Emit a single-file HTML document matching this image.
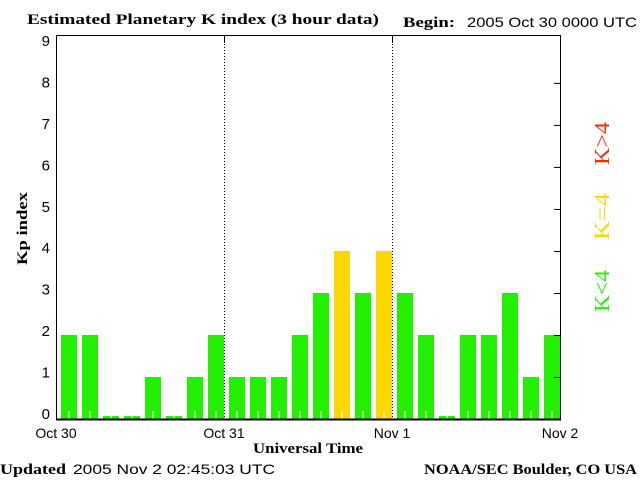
<!DOCTYPE html>
<html><head><meta charset="utf-8"><style>
body{margin:0;background:#fff;}
svg{display:block;font-family:"Liberation Serif",serif;}
.s{font-family:"Liberation Sans",sans-serif;}
</style></head><body>
<svg id="c" width="640" height="480">
<text x="27" y="24" font-size="15" font-weight="bold" textLength="352" lengthAdjust="spacingAndGlyphs">Estimated Planetary K index (3 hour data)</text>
<text x="403" y="27" font-size="15" font-weight="bold" textLength="52" lengthAdjust="spacingAndGlyphs">Begin:</text>
<text x="467" y="27" font-size="14" class="s" textLength="170" lengthAdjust="spacingAndGlyphs">2005 Oct 30 0000 UTC</text>
<text x="0" y="474" font-size="15" font-weight="bold" textLength="66" lengthAdjust="spacingAndGlyphs">Updated</text>
<text x="73" y="474" font-size="14" class="s" textLength="202" lengthAdjust="spacingAndGlyphs">2005 Nov  2 02:45:03 UTC</text>
<text x="424" y="474" font-size="15" font-weight="bold" textLength="213" lengthAdjust="spacingAndGlyphs">NOAA/SEC Boulder, CO USA</text>
<text x="253" y="453" font-size="15" font-weight="bold" textLength="110" lengthAdjust="spacingAndGlyphs">Universal Time</text>
<text transform="translate(27,265) rotate(-90)" font-size="15" font-weight="bold" textLength="73" lengthAdjust="spacingAndGlyphs">Kp index</text>
<text transform="translate(609,312) rotate(-90)" font-size="21" fill="#22f000" textLength="42" lengthAdjust="spacingAndGlyphs">K&lt;4</text>
<text transform="translate(609,240) rotate(-90)" font-size="21" fill="#ffd700" textLength="47" lengthAdjust="spacingAndGlyphs">K=4</text>
<text transform="translate(609,165) rotate(-90)" font-size="21" fill="#ff2a00" textLength="43" lengthAdjust="spacingAndGlyphs">K&gt;4</text>
<g id="plot"></g>
</svg>
<script>
const kpValues=[2,2,0,0,1,0,1,2, 1,1,1,2,3,4,3,4, 3,2,0,2,2,3,1,2];
const yTicks=[0,1,2,3,4,5,6,7,8,9];
const dayLabels=["Oct 30","Oct 31","Nov 1","Nov 2"];
const L=56,R=560,T=35,B=419,ymax=9.14;
const ns="http://www.w3.org/2000/svg";
const g=document.getElementById('plot');
const x=i=>L+(R-L)*i/kpValues.length;
const y=v=>B-(B-T)*v/ymax;
const yl=v=>413-(413-40)*v/9;
function mk(t,a){const e=document.createElementNS(ns,t);for(const k in a)e.setAttribute(k,a[k]);g.appendChild(e);return e;}
kpValues.forEach((v,i)=>{
 const vv=v===0?0.07:v;
 const col=v<4?'#22f000':(v===4?'#ffd700':'#ff2a00');
 const r=mk('rect',{x:x(i)+5,y:y(vv),width:16,height:B-y(vv),fill:col});
 
 
 const tk=mk('line',{x1:x(i)+13,x2:x(i)+13,y1:B,y2:B-8,stroke:'#fff','stroke-width':1});
 
 
});
for(let d=1;d<dayLabels.length-1;d++){
 const xx=L+(R-L)*d/(dayLabels.length-1);
 const dl=mk('line',{x1:xx+0.5,x2:xx+0.5,y1:T,y2:B,stroke:'#000','stroke-dasharray':'1,2'});
 
 
 mk('line',{x1:xx+0.5,x2:xx+0.5,y1:T,y2:T+8,stroke:'#000'});
}
const frame=mk('rect',{x:L+0.5,y:T+0.5,width:R-L,height:B-T,fill:'none',stroke:'#000'});


mk('line',{x1:L,x2:R+1,y1:B+0.5,y2:B+0.5,stroke:'#000','stroke-width':2});
yTicks.forEach(v=>{
 const t=mk('text',{x:L-6,y:yl(v)+6,'font-size':15,'text-anchor':'end','font-family':'Liberation Sans, sans-serif'});
 t.textContent=v;
 
 
 if(v>0&&v<9){mk('line',{x1:R-6,x2:R,y1:y(v)+0.5,y2:y(v)+0.5,stroke:'#000'});}
});
dayLabels.forEach((d,i)=>{
 const t=mk('text',{x:L+(R-L)*i/(dayLabels.length-1),y:438,'font-size':14,'text-anchor':'middle','font-family':'Liberation Sans, sans-serif'});
 t.textContent=d;
 
 
});
</script>
</body></html>
